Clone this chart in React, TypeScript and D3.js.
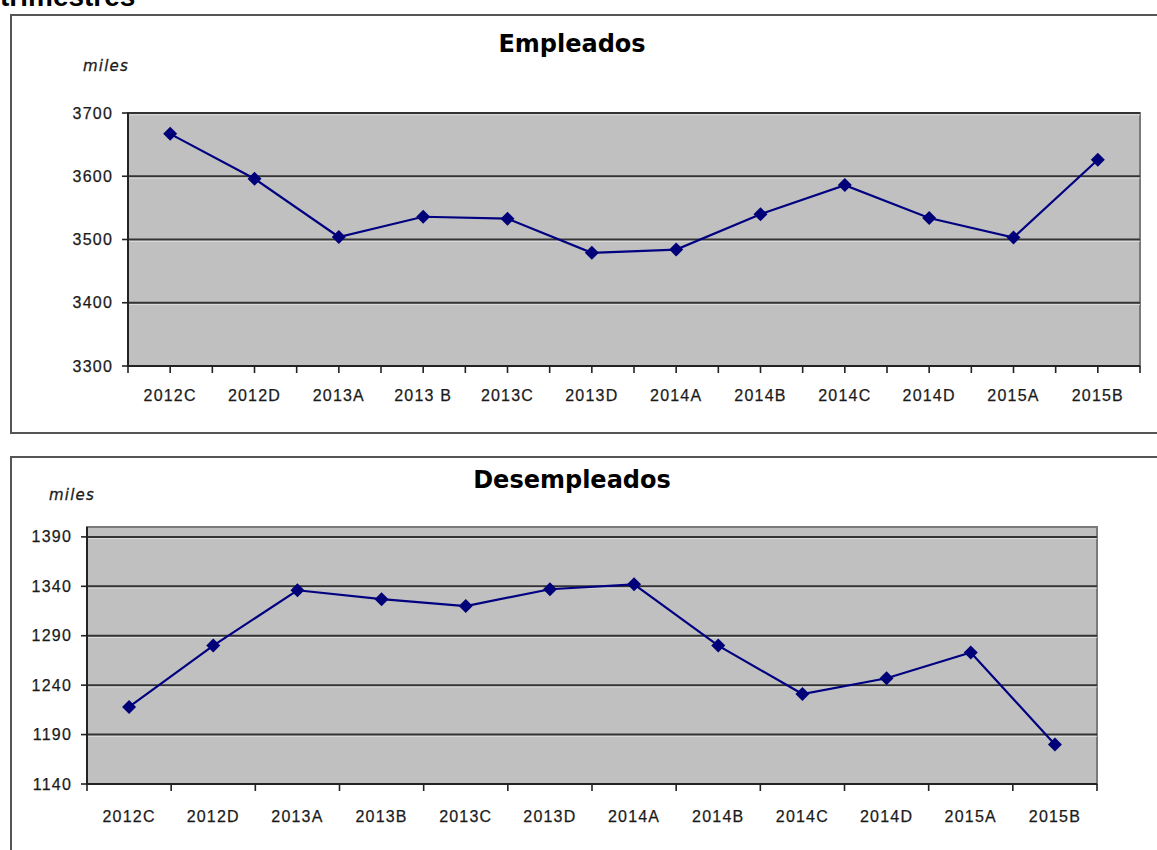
import React, { useEffect, useRef } from 'react';
import * as d3 from 'd3';

const empCategories = ['2012C', '2012D', '2013A', '2013 B', '2013C', '2013D', '2014A', '2014B', '2014C', '2014D', '2015A', '2015B'];
const desCategories = ['2012C', '2012D', '2013A', '2013B', '2013C', '2013D', '2014A', '2014B', '2014C', '2014D', '2015A', '2015B'];

const empleados = [3667, 3596, 3504, 3536, 3533, 3479, 3484, 3540, 3586, 3534, 3503, 3626];
const desempleados = [1218, 1280, 1336, 1327, 1320, 1337, 1342, 1280, 1231, 1247, 1273, 1180];

const empTicks = [3300, 3400, 3500, 3600, 3700];
const desTicks = [1140, 1190, 1240, 1290, 1340, 1390];

const NAVY = '#000080';
const LABEL_FONT = '"Liberation Sans", Arial, sans-serif';
const TITLE_FONT = '"DejaVu Sans", Verdana, sans-serif';

interface PanelCfg {
  title: string;
  frameTop: number;
  frameBottom: number;
  plot: { left: number; right: number; top: number; bottom: number };
  domain: [number, number];
  ticks: number[];
  categories: string[];
  values: number[];
  halfTicks: boolean;
  titleY: number;
  milesX: number;
  milesY: number;
  xLabelY: number;
}

const drawPanel = (svg: d3.Selection<SVGSVGElement, unknown, null, undefined>, cfg: PanelCfg) => {
  const g = svg.append('g');
  const { plot } = cfg;

  // outer frame (open on the right)
  g.append('path')
    .attr('d', `M1170,${cfg.frameTop} H11 V${cfg.frameBottom} H1170`)
    .attr('fill', 'none')
    .attr('stroke', '#555')
    .attr('stroke-width', 2);

  const x = d3.scaleBand<string>()
    .domain(cfg.categories)
    .range([plot.left, plot.right])
    .padding(0);

  const y = d3.scaleLinear()
    .domain(cfg.domain)
    .range([plot.bottom, plot.top]);

  // plot area
  g.append('rect')
    .attr('x', plot.left)
    .attr('y', plot.top)
    .attr('width', plot.right - plot.left)
    .attr('height', plot.bottom - plot.top)
    .attr('fill', '#c0c0c0')
    .attr('stroke', '#7a7a7a')
    .attr('stroke-width', 2);

  // gridlines
  cfg.ticks.forEach(t => {
    if (t === cfg.domain[0]) return;
    g.append('line')
      .attr('x1', plot.left)
      .attr('x2', plot.right)
      .attr('y1', y(t))
      .attr('y2', y(t))
      .attr('stroke', '#333')
      .attr('stroke-width', 2);
    g.append('line')
      .attr('x1', plot.left)
      .attr('x2', plot.right)
      .attr('y1', y(t) + 1.8)
      .attr('y2', y(t) + 1.8)
      .attr('stroke', '#e4e4e4')
      .attr('stroke-width', 0.8);
  });

  // axes lines
  g.append('line')
    .attr('x1', plot.left).attr('x2', plot.left)
    .attr('y1', plot.top).attr('y2', plot.bottom)
    .attr('stroke', '#222').attr('stroke-width', 2);
  g.append('line')
    .attr('x1', plot.left).attr('x2', plot.right)
    .attr('y1', plot.bottom).attr('y2', plot.bottom)
    .attr('stroke', '#222').attr('stroke-width', 2);

  // y ticks + labels
  cfg.ticks.forEach(t => {
    g.append('line')
      .attr('x1', plot.left - 6).attr('x2', plot.left)
      .attr('y1', y(t)).attr('y2', y(t))
      .attr('stroke', '#222').attr('stroke-width', 1.6);
    g.append('text')
      .attr('x', plot.left - 15)
      .attr('y', y(t) + 5.5)
      .attr('text-anchor', 'end')
      .attr('font-family', LABEL_FONT)
      .attr('font-size', 16)
      .attr('letter-spacing', 1.2)
      .attr('fill', '#1a1a1a')
      .attr('stroke', '#1a1a1a')
      .attr('stroke-width', 0.25)
      .text(t);
  });

  // x ticks
  const bw = x.bandwidth();
  const tickXs: number[] = [];
  cfg.categories.forEach((c, i) => {
    const x0 = x(c)!;
    tickXs.push(x0);
    if (cfg.halfTicks) tickXs.push(x0 + bw / 2);
    if (i === cfg.categories.length - 1) tickXs.push(x0 + bw);
  });
  tickXs.forEach(tx => {
    g.append('line')
      .attr('x1', tx).attr('x2', tx)
      .attr('y1', plot.bottom).attr('y2', plot.bottom + 7)
      .attr('stroke', '#222').attr('stroke-width', 1.6);
  });

  // x labels
  cfg.categories.forEach(c => {
    g.append('text')
      .attr('x', x(c)! + bw / 2)
      .attr('y', cfg.xLabelY)
      .attr('text-anchor', 'middle')
      .attr('font-family', LABEL_FONT)
      .attr('font-size', 16)
      .attr('letter-spacing', 1.2)
      .attr('fill', '#1a1a1a')
      .attr('stroke', '#1a1a1a')
      .attr('stroke-width', 0.25)
      .text(c);
  });

  // series line
  const pts = cfg.categories.map((c, i) => [x(c)! + bw / 2, y(cfg.values[i])] as [number, number]);
  g.append('path')
    .datum(pts)
    .attr('fill', 'none')
    .attr('stroke', NAVY)
    .attr('stroke-width', 2.2)
    .attr('d', d3.line());

  const marker = d3.symbol(d3.symbolSquare, 98);
  pts.forEach(([px, py]) => {
    g.append('path')
      .attr('d', marker()!)
      .attr('transform', `translate(${px},${py}) rotate(45)`)
      .attr('fill', '#000078');
  });

  // title
  g.append('text')
    .attr('x', 572)
    .attr('y', cfg.titleY)
    .attr('text-anchor', 'middle')
    .attr('font-family', TITLE_FONT)
    .attr('font-weight', 'bold')
    .attr('font-size', 24)
    .attr('fill', '#000')
    .text(cfg.title);

  // unit label
  g.append('text')
    .attr('x', cfg.milesX)
    .attr('y', cfg.milesY)
    .attr('font-family', TITLE_FONT)
    .attr('font-style', 'italic')
    .attr('font-size', 15)
    .attr('letter-spacing', 1.2)
    .attr('fill', '#1a1a1a')
    .attr('stroke', '#1a1a1a')
    .attr('stroke-width', 0.3)
    .text('miles');
};

export default function App() {
  const svgRef = useRef<SVGSVGElement>(null);

  useEffect(() => {
    if (!svgRef.current) return;
    const svg = d3.select(svgRef.current);
    svg.selectAll('*').remove();

    svg.append('rect').attr('width', 1157).attr('height', 850).attr('fill', '#fff');

    // page heading, cut at top as in the source screenshot
    svg.append('text')
      .attr('x', 0)
      .attr('y', 6)
      .attr('font-family', LABEL_FONT)
      .attr('font-weight', 'bold')
      .attr('font-size', 28)
      .attr('fill', '#000')
      .text('trimestres');

    drawPanel(svg, {
      title: 'Empleados',
      frameTop: 15,
      frameBottom: 433,
      plot: { left: 128, right: 1140, top: 113, bottom: 366 },
      domain: [3300, 3700],
      ticks: empTicks,
      categories: empCategories,
      values: empleados,
      halfTicks: true,
      titleY: 52,
      milesX: 83,
      milesY: 71,
      xLabelY: 401,
    });

    drawPanel(svg, {
      title: 'Desempleados',
      frameTop: 457,
      frameBottom: 870,
      plot: { left: 87, right: 1097, top: 527, bottom: 784 },
      domain: [1140, 1400],
      ticks: desTicks,
      categories: desCategories,
      values: desempleados,
      halfTicks: false,
      titleY: 488,
      milesX: 49,
      milesY: 500,
      xLabelY: 822,
    });
  }, []);

  return (
    <svg
      ref={svgRef}
      width={1157}
      height={850}
      style={{ position: 'absolute', left: 0, top: 0 }}
    />
  );
}
